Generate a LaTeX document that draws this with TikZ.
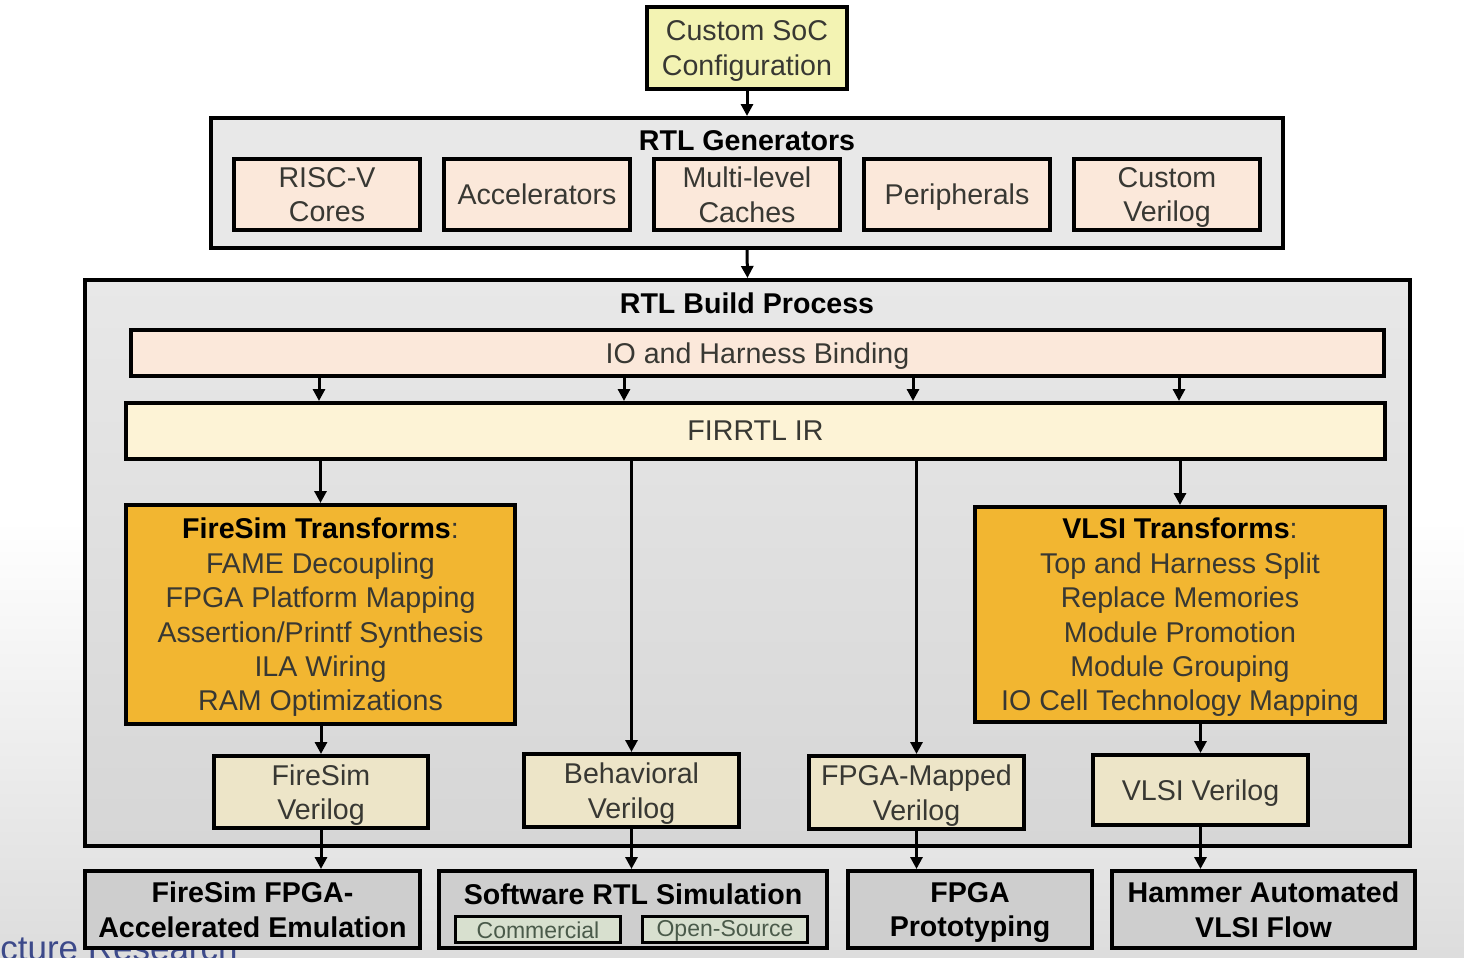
\documentclass[tikz,border=0pt]{standalone}
\usepackage{fontspec}
\setmainfont{Liberation Sans}
\usetikzlibrary{arrows.meta}
\definecolor{socfill}{HTML}{F3F3B3}
\definecolor{peach}{HTML}{FBE8DA}
\definecolor{cream}{HTML}{FDF3D6}
\definecolor{gold}{HTML}{F2B631}
\definecolor{beige}{HTML}{EDE5C8}
\definecolor{panel}{HTML}{E8E8E8}
\definecolor{panelb}{HTML}{D6D6D6}
\definecolor{outgray}{HTML}{CECECE}
\definecolor{subfill}{HTML}{D8E0CF}
\definecolor{subtxt}{HTML}{4A5A4A}
\definecolor{txt}{HTML}{383833}
\definecolor{wm}{HTML}{3D4A8A}
% name, box style, text style, x1, y1, x2, y2, text
\newcommand{\mkbox}[8]{%
  \node[bx, #2, minimum width={(#6-#4)*0.5pt-2pt}, minimum height={(#7-#5)*0.5pt-2pt}] (#1) at ({(#4+#6)/2},{(#5+#7)/2}) {};%
  \node[bxt, #3] (#1-t) at ([yshift=-1.5pt]#1.center) {#8\vphantom{g}};}
\tikzset{
  bx/.style={draw=black, line width=2pt, inner sep=0pt},
  bxt/.style={align=center, inner sep=0pt, text=txt, font=\fontsize{14.3}{17.2}\selectfont},
  bold/.style={text=black, font=\fontsize{14.3}{17.2}\selectfont\bfseries},
  ttl/.style={inner sep=0pt, align=center, text=black, font=\fontsize{14.3}{17.2}\selectfont\bfseries},
  small/.style={text=subtxt, font=\fontsize{11.5}{13}\selectfont},
  arr/.style={line width=1.5pt, -{Triangle[width=6pt,length=6pt]}},
}
\begin{document}
\begin{tikzpicture}[x=0.5pt,y=-0.5pt]
\useasboundingbox (0,0) rectangle (1464,958);
\begin{scope}
\clip (0,0) rectangle (1464,958);
\fill[white] (0,0) rectangle (1464,520);
\shade[top color=white, bottom color=gray!27] (0,520) rectangle (1464,958);
\node[anchor=base west, inner sep=0pt, text=wm, font=\fontsize{17.5}{20}\selectfont] (wmark) at (-109,960) {Architecture Research};
\end{scope}

% top
\mkbox{soc}{fill=socfill}{}{645}{5}{849}{91}{Custom SoC\\Configuration}

% RTL generators
\node[bx, fill=panel, minimum width={1076*0.5pt-2pt}, minimum height={134*0.5pt-2pt}] (gen) at (747,183) {};
\node[ttl] (gent) at (747,141) {RTL Generators};
\mkbox{risc}{fill=peach}{}{232}{157}{422}{232}{RISC-V\\Cores}
\mkbox{acc}{fill=peach}{}{442}{157}{632}{232}{Accelerators}
\mkbox{cache}{fill=peach}{}{652}{157}{842}{232}{Multi-level\\Caches}
\mkbox{peri}{fill=peach}{}{862}{157}{1052}{232}{Peripherals}
\mkbox{cver}{fill=peach}{}{1072}{157}{1262}{232}{Custom\\Verilog}

% RTL build process
\node[bx, top color=panel, bottom color=panelb, minimum width={1329*0.5pt-2pt}, minimum height={570*0.5pt-2pt}] (build) at (747.5,563) {};
\node[ttl] (buildt) at (747,303) {RTL Build Process};
\mkbox{io}{fill=peach}{}{129}{328}{1386}{378}{IO and Harness Binding}
\mkbox{fir}{fill=cream}{}{124}{401}{1387}{461}{FIRRTL IR}

\mkbox{fst}{fill=gold}{}{124}{503}{517}{726}{\textbf{\color{black}FireSim Transforms}:\\FAME Decoupling\\FPGA Platform Mapping\\Assertion/Printf Synthesis\\ILA Wiring\\RAM Optimizations}
\mkbox{vt}{fill=gold}{}{973}{505}{1387}{724}{\textbf{\color{black}VLSI Transforms}:\\Top and Harness Split\\Replace Memories\\Module Promotion\\Module Grouping\\IO Cell Technology Mapping}

\mkbox{fv}{fill=beige}{}{212}{754}{430}{830}{FireSim\\Verilog}
\mkbox{bv}{fill=beige}{}{522}{752}{741}{829}{Behavioral\\Verilog}
\mkbox{mv}{fill=beige}{}{807}{754}{1026}{831}{FPGA-Mapped\\Verilog}
\mkbox{vv}{fill=beige}{}{1091}{753}{1310}{827}{VLSI Verilog}

% bottom
\mkbox{fe}{fill=outgray}{bold}{83}{869}{422}{950}{FireSim FPGA-\\Accelerated Emulation}
\node[bx, fill=outgray, minimum width={392*0.5pt-2pt}, minimum height={81*0.5pt-2pt}] (sw) at (633,909.5) {};
\node[ttl] (swt) at (633,894) {Software RTL Simulation};
\node[bx, fill=subfill, line width=1.6pt, minimum width={168*0.5pt-1.6pt}, minimum height={29*0.5pt-1.6pt}] (com) at (538,929.5) {};
\node[bxt, small] (com-t) at (538,930.5) {Commercial};
\node[bx, fill=subfill, line width=1.6pt, minimum width={168*0.5pt-1.6pt}, minimum height={29*0.5pt-1.6pt}] (ops) at (725,929.5) {};
\node[bxt, small] (ops-t) at (725,930.5) {Open-Source};
\mkbox{fp}{fill=outgray}{bold}{846}{869}{1094}{950}{FPGA\\Prototyping}
\mkbox{ham}{fill=outgray}{bold}{1110}{869}{1417}{950}{Hammer Automated\\VLSI Flow}

% arrows
\draw[arr] (soc.south) -- (gen.north);
\draw[arr] (gen.south) -- (build.north);
\coordinate (c1) at (319,0);
\coordinate (c2) at (624,0);
\coordinate (c3) at (913,0);
\coordinate (c4) at (1179,0);
\foreach \c in {c1,c2,c3,c4} \draw[arr] (\c |- io.south) -- (\c |- fir.north);
\draw[arr] (fir.south -| fst.north) -- (fst.north);
\draw[arr] (fir.south -| bv.north) -- (bv.north);
\draw[arr] (fir.south -| mv.north) -- (mv.north);
\draw[arr] (fir.south -| vt.north) -- (vt.north);
\draw[arr] (fst.south -| fv.north) -- (fv.north);
\draw[arr] (vt.south -| vv.north) -- (vv.north);
\draw[arr] (fv.south) -- (fv.south |- fe.north);
\draw[arr] (bv.south) -- (bv.south |- sw.north);
\draw[arr] (mv.south) -- (mv.south |- fp.north);
\draw[arr] (vv.south) -- (vv.south |- ham.north);
\end{tikzpicture}
\end{document}
